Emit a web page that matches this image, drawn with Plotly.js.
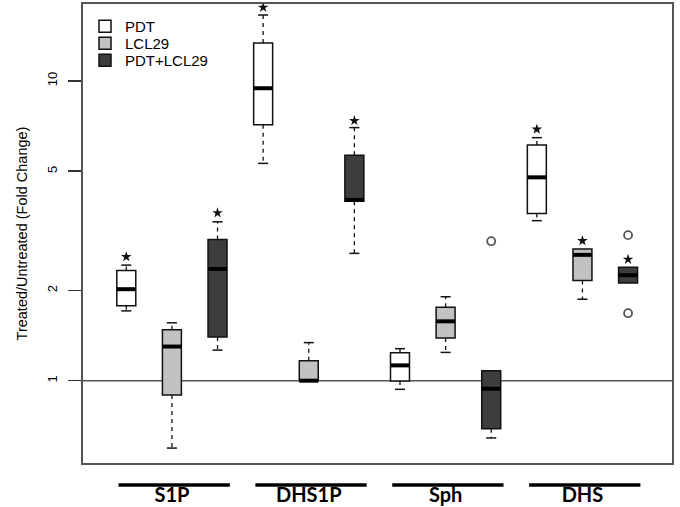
<!DOCTYPE html>
<html><head><meta charset="utf-8">
<script src="https://cdn.plot.ly/plotly-3.0.1.min.js"></script>
<style>html,body{margin:0;padding:0;background:#fff}#chart{width:680px;height:507px}</style>
</head><body><div id="chart"></div>
<script>
// ---- data ----
const categories = ['S1P', 'DHS1P', 'Sph', 'DHS'];
const seriesNames = ['PDT', 'LCL29', 'PDT+LCL29'];

// PDT
const pdtLower  = [1.71, 5.31, 0.936, 3.42];
const pdtQ1     = [1.78, 7.15, 0.998, 3.61];
const pdtMedian = [2.02, 9.46, 1.125, 4.77];
const pdtQ3     = [2.33, 13.4, 1.24, 6.11];
const pdtUpper  = [2.43, 16.6, 1.279, 6.47];
const pdtOutliers = [[], [], [], []];
const pdtStars  = [2.59, 17.6, null, 6.90];

// LCL29
const lclLower  = [0.596, 1.0, 1.243, 1.87];
const lclQ1     = [0.896, 1.0, 1.388, 2.16];
const lclMedian = [1.30, 1.0, 1.578, 2.63];
const lclQ3     = [1.48, 1.166, 1.757, 2.75];
const lclUpper  = [1.56, 1.34, 1.906, 2.75];
const lclOutliers = [[], [], [], []];
const lclStars  = [null, null, null, 2.93];

// PDT+LCL29
const comboLower  = [1.265, 2.66, 0.644, 2.12];
const comboQ1     = [1.40, 3.97, 0.691, 2.12];
const comboMedian = [2.36, 4.01, 0.940, 2.25];
const comboQ3     = [2.96, 5.65, 1.08, 2.39];
const comboUpper  = [3.39, 6.99, 1.08, 2.39];
const comboOutliers = [[], [], [2.92], [3.06, 1.68]];
const comboStars  = [3.63, 7.37, null, 2.54];

const tickValues = [1, 2, 5, 10];
const tickLabels = ['1', '2', '5', '10'];

// ---- styling ----
const fills = ['#ffffff', '#c2c2c2', '#3d3d3d'];
const boxW = 0.416;
const capW = 0.11;
const legendIds = ['legend', 'legend2', 'legend3'];

const series = [
  {lo: pdtLower, q1: pdtQ1, med: pdtMedian, q3: pdtQ3, hi: pdtUpper, out: pdtOutliers, star: pdtStars},
  {lo: lclLower, q1: lclQ1, med: lclMedian, q3: lclQ3, hi: lclUpper, out: lclOutliers, star: lclStars},
  {lo: comboLower, q1: comboQ1, med: comboMedian, q3: comboQ3, hi: comboUpper, out: comboOutliers, star: comboStars}
];
const nS = seriesNames.length;
const pos = (g, s) => g * nS + s + 1;

const traces = [];
series.forEach((d, s) => {
  const xs = categories.map((c, g) => pos(g, s));
  traces.push({
    type: 'box', name: seriesNames[s], x: xs, legend: legendIds[s],
    q1: d.q1, median: d.med, q3: d.q3, lowerfence: d.q1, upperfence: d.q3,
    width: boxW, whiskerwidth: 0, fillcolor: fills[s],
    line: {color: '#111', width: 1.5}, boxpoints: false, hoverinfo: 'y'
  });
});
series.forEach((d, s) => {
  const medX = [], medY = [], wX = [], wY = [], cX = [], cY = [], oX = [], oY = [], sX = [], sY = [];
  categories.forEach((c, g) => {
    const p = pos(g, s);
    medX.push(p - boxW / 2, p + boxW / 2, null); medY.push(d.med[g], d.med[g], null);
    if (d.hi[g] > d.q3[g]) {
      wX.push(p, p, null); wY.push(d.q3[g], d.hi[g], null);
      cX.push(p - capW, p + capW, null); cY.push(d.hi[g], d.hi[g], null);
    }
    if (d.lo[g] < d.q1[g]) {
      wX.push(p, p, null); wY.push(d.q1[g], d.lo[g], null);
      cX.push(p - capW, p + capW, null); cY.push(d.lo[g], d.lo[g], null);
    }
    d.out[g].forEach(v => { oX.push(p); oY.push(v); });
    if (d.star[g] !== null) { sX.push(p); sY.push(d.star[g]); }
  });
  traces.push({type: 'scatter', mode: 'lines', x: wX, y: wY, showlegend: false, hoverinfo: 'skip',
    line: {color: '#111', width: 1.3, dash: '4px,4px'}});
  traces.push({type: 'scatter', mode: 'lines', x: cX, y: cY, showlegend: false, hoverinfo: 'skip',
    line: {color: '#111', width: 1.5}});
  traces.push({type: 'scatter', mode: 'lines', x: medX, y: medY, showlegend: false, hoverinfo: 'skip',
    line: {color: '#000', width: 4}});
  traces.push({type: 'scatter', mode: 'markers', x: oX, y: oY, showlegend: false,
    marker: {symbol: 'circle-open', size: 8, color: '#555', line: {width: 1.8, color: '#555'}}});
  traces.push({type: 'scatter', mode: 'markers', x: sX, y: sY, showlegend: false, hoverinfo: 'skip',
    marker: {symbol: 'star', size: 8, color: '#111'}});
});

const centers = categories.map((c, g) => pos(g, 1));
const shapes = [{
  type: 'line', xref: 'paper', x0: 0, x1: 1, yref: 'y', y0: 1, y1: 1,
  line: {color: '#555', width: 1.5}, layer: 'below'
}];
centers.forEach(cx => shapes.push({
  type: 'line', xref: 'x', yref: 'paper', x0: cx - 1.17, x1: cx + 1.27, y0: -0.048, y1: -0.048,
  line: {color: '#000', width: 3.5}
}));

const legendFont = {family: 'Liberation Sans, Arial, sans-serif', size: 15, color: '#000'};
const legendBase = {x: 0.0034, xanchor: 'left', yanchor: 'top', bgcolor: 'rgba(0,0,0,0)',
  font: legendFont, itemwidth: 30};

const layout = {
  width: 680, height: 507,
  margin: {l: 83, r: 8, t: 4, b: 44},
  paper_bgcolor: '#fff', plot_bgcolor: '#fff',
  showlegend: true,
  legend: Object.assign({}, legendBase, {y: 0.987}),
  legend2: Object.assign({}, legendBase, {y: 0.950}),
  legend3: Object.assign({}, legendBase, {y: 0.913}),
  xaxis: {range: [0.051, 12.963], tickvals: centers, ticktext: categories, ticks: '',
    showline: true, mirror: true, linecolor: '#555', linewidth: 2, showgrid: false, zeroline: false,
    tickfont: {family: 'Lato, sans-serif', size: 20, color: '#000', weight: 'bold'},
    ticklabelstandoff: 13},
  yaxis: {type: 'log', range: [-0.2746, 1.2569], tickvals: tickValues, ticktext: tickLabels,
    ticks: 'outside', ticklen: 13, tickwidth: 1.5, tickcolor: '#333', tickangle: -90,
    tickfont: {family: 'Liberation Sans, Arial, sans-serif', size: 13, color: '#000'},
    ticklabelstandoff: 6,
    showline: true, mirror: true, linecolor: '#555', linewidth: 2, showgrid: false, zeroline: false,
    title: {text: 'Treated/Untreated (Fold Change)', standoff: 14,
      font: {family: 'Liberation Sans, Arial, sans-serif', size: 14.5, color: '#000'}}},
  shapes: shapes
};

Plotly.newPlot('chart', traces, layout, {displayModeBar: false, staticPlot: true});
</script>
</body></html>
